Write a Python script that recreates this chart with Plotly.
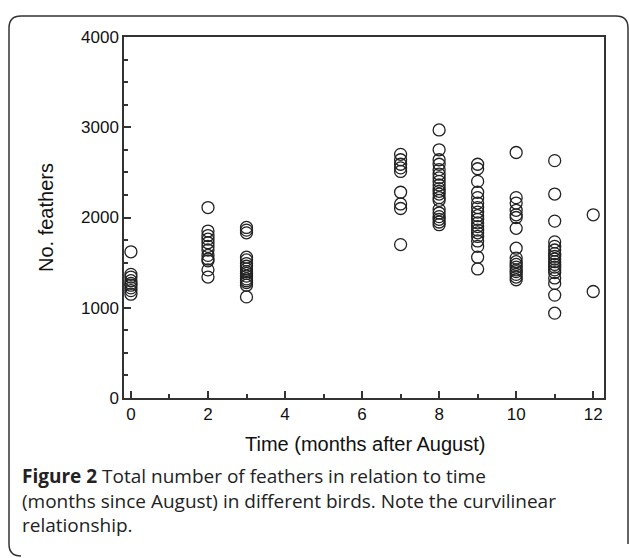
import plotly.graph_objects as go

# ---- data ----
months_0 = [1620, 1370, 1340, 1300, 1270, 1250, 1220, 1190, 1150]
months_2 = [2110, 1850, 1800, 1760, 1720, 1680, 1640, 1580, 1540, 1520, 1420, 1340]
months_3 = [1890, 1860, 1830, 1560, 1530, 1490, 1460, 1430, 1400, 1380, 1350, 1320,
            1300, 1280, 1250, 1120]
months_7 = [2700, 2640, 2590, 2550, 2510, 2280, 2150, 2100, 1700]
months_8 = [2970, 2750, 2640, 2590, 2530, 2480, 2440, 2400, 2360, 2320, 2290, 2260,
            2220, 2190, 2090, 2050, 2010, 1980, 1950, 1920]
months_9 = [2590, 2540, 2400, 2280, 2220, 2160, 2110, 2060, 2020, 1980, 1940, 1900,
            1860, 1830, 1790, 1740, 1680, 1560, 1430]
months_10 = [2720, 2220, 2160, 2080, 2030, 2000, 1880, 1660, 1550, 1510, 1480, 1450,
             1420, 1400, 1370, 1340, 1310]
months_11 = [2630, 2260, 1960, 1730, 1680, 1640, 1600, 1570, 1540, 1510, 1480, 1450,
             1420, 1390, 1330, 1270, 1140, 940]
months_12 = [2030, 1180]

groups = {0: months_0, 2: months_2, 3: months_3, 7: months_7, 8: months_8,
          9: months_9, 10: months_10, 11: months_11, 12: months_12}

x_ticks = [0, 2, 4, 6, 8, 10, 12]
y_ticks = [0, 1000, 2000, 3000, 4000]

xs, ys = [], []
for m, vals in groups.items():
    xs += [m] * len(vals)
    ys += vals

W, H = 629, 558
L, R, T, B = 124, 604, 37, 398  # plot box in pixels

fig = go.Figure()
fig.add_trace(go.Scatter(
    x=xs, y=ys, mode="markers",
    marker=dict(symbol="circle-open", size=12, color="#222",
                line=dict(width=1.3, color="#222")),
    showlegend=False, hoverinfo="x+y"))

axis_common = dict(showgrid=False, zeroline=False, showline=True, linecolor="#333",
                   linewidth=1.5, mirror=True, ticks="inside", ticklen=7,
                   tickwidth=1.5, tickcolor="#333",
                   tickfont=dict(family="Liberation Sans, Arial", size=17, color="#111"))

fig.update_layout(
    width=W, height=H,
    margin=dict(l=L, r=W - R, t=T, b=H - B),
    paper_bgcolor="white", plot_bgcolor="white",
    xaxis=dict(range=[-0.18, 12.28], tickvals=x_ticks,
               minor=dict(dtick=1, tick0=0, ticks="inside", ticklen=4, tickcolor="#333"),
               **axis_common),
    yaxis=dict(range=[0, 4000], tickvals=y_ticks,
               minor=dict(dtick=250, tick0=0, ticks="inside", ticklen=4, tickcolor="#333"),
               **axis_common),
)


def px(xp):
    return (xp - L) / (R - L)


def py(yp):
    return (B - yp) / (B - T)


# axis titles
fig.add_annotation(text="Time (months after August)", xref="paper", yref="paper",
                   x=px(365), y=py(444), xanchor="center", yanchor="middle",
                   showarrow=False,
                   font=dict(family="Liberation Sans, Arial", size=20, color="#111"))
fig.add_annotation(text="No. feathers", xref="paper", yref="paper",
                   x=px(46), y=py(218), xanchor="center", yanchor="middle",
                   showarrow=False, textangle=-90,
                   font=dict(family="Liberation Sans, Arial", size=20, color="#111"))

# caption
caption = ["<b>Figure 2</b> Total number of feathers in relation to time",
           "(months since August) in different birds. Note the curvilinear",
           "relationship."]
fig.add_annotation(text="<br>".join(caption), xref="paper", yref="paper",
                   x=px(20), y=py(500), xanchor="left", yanchor="middle", align="left",
                   showarrow=False,
                   font=dict(family="Open Sans", size=19, color="#222"))

# rounded border frame
x0, x1, y0, y1, r = 9, 628, 16, 556, 12
path = (f"M {px(x0 + r)},{py(y1)} Q {px(x0)},{py(y1)} {px(x0)},{py(y1 - r)} "
        f"L {px(x0)},{py(y0 + r)} "
        f"Q {px(x0)},{py(y0)} {px(x0 + r)},{py(y0)} "
        f"L {px(x1 - r)},{py(y0)} Q {px(x1)},{py(y0)} {px(x1)},{py(y0 + r)} "
        f"L {px(x1)},{py(y1 - r)}")
fig.add_shape(type="path", path=path, xref="paper", yref="paper",
              line=dict(color="#333", width=1.5))

fig.write_html("out.html", config={"displayModeBar": False},
               post_script="document.body.style.margin='0';document.body.style.overflow='hidden';")
